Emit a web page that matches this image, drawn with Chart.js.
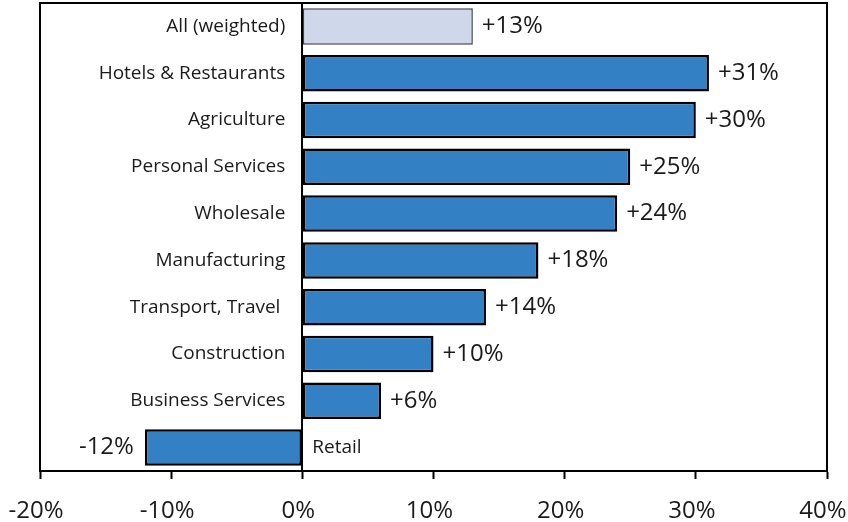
<!DOCTYPE html>
<html>
<head>
<meta charset="utf-8">
<script src="https://cdn.jsdelivr.net/npm/chart.js@4/dist/chart.umd.min.js"></script>
<style>
  html, body { margin: 0; padding: 0; background: #fff; }
  #wrap { width: 848px; height: 522px; }
</style>
</head>
<body>
<div id="wrap"><canvas id="bar-chart"></canvas></div>
<script>
// sectors, top to bottom
var sectors = ["All (weighted)", "Hotels & Restaurants", "Agriculture", "Personal Services",
    "Wholesale", "Manufacturing", "Transport, Travel ", "Construction", "Business Services", "Retail"];
// change, in %
var change = [13, 31, 30, 25, 24, 18, 14, 10, 6, -12];
var xTicks = [-20, -10, 0, 10, 20, 30, 40];

var FONT = "'Open Sans', 'Noto Sans', sans-serif";

var fills = change.map(function (v, i) { return i === 0 ? "#cfd7eb" : "#3381c4"; });
var borders = change.map(function (v, i) { return i === 0 ? "#3a3f4a" : "#000"; });
var borderW = change.map(function (v, i) { return i === 0 ? 1.5 : 2.5; });

function pct(v) { return (v > 0 ? "+" : "") + v + "%"; }

// frame, zero line, sector names and value labels
var labelsPlugin = {
    id: "barLabels",
    beforeDatasetsDraw: function (chart) {
        var ctx = chart.ctx, a = chart.chartArea, x = chart.scales.x;
        var x0 = Math.round(x.getPixelForValue(0));
        ctx.save();
        ctx.strokeStyle = "#000";
        ctx.lineWidth = 2;
        ctx.beginPath();
        ctx.moveTo(a.left, a.bottom);
        ctx.lineTo(a.left, a.top);
        ctx.lineTo(a.right, a.top);
        ctx.lineTo(a.right, a.bottom);
        ctx.moveTo(x0, a.top);
        ctx.lineTo(x0, a.bottom);
        ctx.stroke();
        ctx.restore();
    },
    afterDatasetsDraw: function (chart) {
        var ctx = chart.ctx, x = chart.scales.x;
        var meta = chart.getDatasetMeta(0);
        var x0 = x.getPixelForValue(0);
        ctx.save();
        ctx.fillStyle = "#1a1a1a";
        ctx.textBaseline = "middle";
        meta.data.forEach(function (bar, i) {
            var v = change[i];
            var end = x.getPixelForValue(v);
            ctx.font = "19px " + FONT;
            if (v >= 0) {
                ctx.textAlign = "right";
                ctx.fillText(sectors[i], x0 - 17, bar.y);
                ctx.font = "24px " + FONT;
                ctx.textAlign = "left";
                ctx.fillText(pct(v), end + 9, bar.y);
            } else {
                ctx.textAlign = "left";
                ctx.fillText(sectors[i], x0 + 10, bar.y);
                ctx.font = "24px " + FONT;
                ctx.textAlign = "right";
                ctx.fillText(pct(v), end - 11, bar.y);
            }
        });
        ctx.restore();
    }
};

new Chart(document.getElementById("bar-chart"), {
    type: "bar",
    data: {
        labels: sectors,
        datasets: [{
            data: change,
            backgroundColor: fills,
            borderColor: borders,
            borderWidth: borderW,
            borderSkipped: false,
            barPercentage: 0.78,
            categoryPercentage: 1
        }]
    },
    options: {
        indexAxis: "y",
        responsive: true,
        maintainAspectRatio: false,
        animation: false,
        layout: { padding: { left: 40, right: 21, top: 3, bottom: 0 } },
        plugins: {
            legend: { display: false },
            tooltip: { enabled: false }
        },
        scales: {
            x: {
                min: -20,
                max: 40,
                afterBuildTicks: function (scale) {
                    scale.ticks = xTicks.map(function (v) { return { value: v }; });
                },
                afterFit: function (scale) {
                    scale.paddingLeft = 0;
                    scale.paddingRight = 0;
                    scale.height = 51;
                },
                border: { display: true, color: "#000", width: 2 },
                grid: {
                    drawOnChartArea: false,
                    drawTicks: true,
                    tickLength: 8,
                    tickWidth: 2,
                    tickColor: "#000"
                },
                ticks: {
                    maxRotation: 0,
                    padding: 18,
                    labelOffset: -4,
                    color: "#1a1a1a",
                    font: { family: FONT, size: 24 },
                    callback: function (v) { return v + "%"; }
                }
            },
            y: {
                display: false,
                grid: { display: false }
            }
        }
    },
    plugins: [labelsPlugin]
});
</script>
</body>
</html>
